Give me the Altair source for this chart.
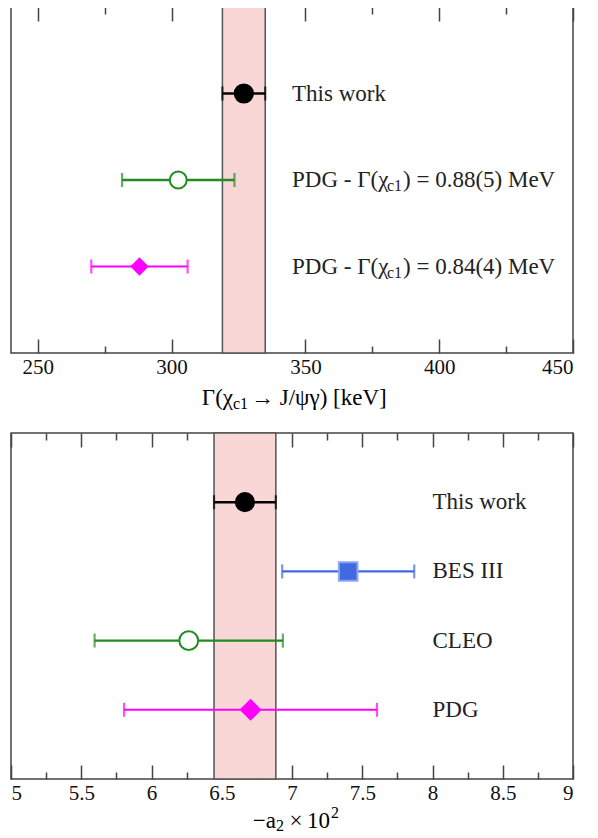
import altair as alt
import pandas as pd

# ---------------- data: top panel ----------------
top_names = ["This work", "PDG 0.88(5)", "PDG 0.84(4)"]
top_center = [327.0, 302.5, 288.0]
top_err = [8.0, 21.0, 18.0]
top_pos = [1, 2, 3]
top_label_main = ["This work", "PDG - Γ(χ", "PDG - Γ(χ"]
top_label_sub = ["", "c1", "c1"]
top_label_rest = ["", ") = 0.88(5) MeV", ") = 0.84(4) MeV"]
top_label_x = 345.0
top_band = [319.0, 335.0]
top_domain = [240, 450]
top_ticks = [250, 275, 300, 325, 350, 375, 400, 425, 450]

# ---------------- data: bottom panel ----------------
bot_names = ["This work ", "BES III", "CLEO", "PDG"]
bot_labels = ["This work", "BES III", "CLEO", "PDG"]
bot_center = [6.665, 7.40, 6.265, 6.705]
bot_err = [0.22, 0.47, 0.67, 0.90]
bot_pos = [1, 2, 3, 4]
bot_label_x = 8.0
bot_band = [6.445, 6.885]
bot_domain = [5, 9]
bot_ticks = [5, 5.25, 5.5, 5.75, 6, 6.25, 6.5, 6.75, 7, 7.25, 7.5, 7.75, 8, 8.25, 8.5, 8.75, 9]

# ---------------- styles ----------------
W, H = 562, 346
FONT = "Liberation Serif"
FRAME = "#444444"
LFS = 23

top_colors = ["#000000", "#228B22", "#FF00FF"]
top_shapes = ["circle", "circle", "diamond"]
top_fills = ["#000000", "#FFFFFF", "#FF00FF"]
top_sizes = [330, 240, 330]
top_lw = [2.6, 2.0, 2.0]

bot_colors = ["#000000", "#4169E1", "#228B22", "#FF00FF"]
bot_strokes = ["#000000", "#8DA5EE", "#228B22", "#FF00FF"]
bot_shapes = ["circle", "square", "circle", "diamond"]
bot_fills = ["#000000", "#4169E1", "#FFFFFF", "#FF00FF"]
bot_sizes = [330, 370, 240, 330]
bot_lw = [2.6, 2.0, 2.0, 2.0]


def panel(names, center, err, pos, band, domain, ticks, major_test, ydom,
          colors, strokes, shapes, fills, sizes, lws, labels, label_x, title_parts, title_y):
    df = pd.DataFrame({
        "name": names,
        "c": center,
        "lo": [c - e for c, e in zip(center, err)],
        "hi": [c + e for c, e in zip(center, err)],
        "pos": pos,
        "lx": [label_x] * len(names),
    })
    for k, v in labels.items():
        df[k] = v
    band_df = pd.DataFrame({"b0": [band[0]], "b1": [band[1]]})

    xscale = alt.Scale(domain=domain, nice=False, zero=False)
    yscale = alt.Scale(domain=ydom, reverse=True, nice=False, zero=False)
    tick_size = {"condition": {"test": major_test, "value": 14}, "value": 7}
    color_s = alt.Scale(domain=names, range=colors)
    lw_s = alt.Scale(domain=names, range=lws)

    ax_labels = alt.Axis(values=ticks, orient="bottom", ticks=False, tickSize=0, domain=False,
                         grid=False, labelFont=FONT, labelFontSize=21, labelColor="#111",
                         labelPadding=3, title=None,
                         labelExpr=f"({major_test}) ? format(datum.value, '~g') : ''")
    ax_bot_ticks = alt.Axis(values=ticks, orient="top", offset=-H, labels=False, domain=False,
                            grid=False, tickSize=tick_size, tickColor=FRAME, tickWidth=1.5,
                            title=None)
    ax_top_ticks = alt.Axis(values=ticks, orient="bottom", offset=-H, labels=False, domain=False,
                            grid=False, tickSize=tick_size, tickColor=FRAME, tickWidth=1.5,
                            title=None)

    band_layer = alt.Chart(band_df).mark_rect(
        fill="#F9D7D7", stroke="#555555", strokeWidth=1.5
    ).encode(
        x=alt.X("b0:Q", scale=xscale, axis=ax_labels),
        x2="b1:Q",
    )
    base = alt.Chart(df)
    err_layer = base.mark_rule().encode(
        x=alt.X("lo:Q", scale=xscale, axis=ax_bot_ticks),
        x2="hi:Q",
        y=alt.Y("pos:Q", scale=yscale, axis=None),
        color=alt.Color("name:N", scale=color_s, legend=None),
        strokeWidth=alt.StrokeWidth("name:N", scale=lw_s, legend=None),
    )
    cap_lo = base.mark_tick(orient="vertical", size=14, thickness=2.2).encode(
        x=alt.X("lo:Q", scale=xscale, axis=ax_top_ticks),
        y=alt.Y("pos:Q", scale=yscale, axis=None),
        color=alt.Color("name:N", scale=color_s, legend=None),
    )
    cap_hi = base.mark_tick(orient="vertical", size=14, thickness=2.2).encode(
        x=alt.X("hi:Q", scale=xscale, axis=None),
        y=alt.Y("pos:Q", scale=yscale, axis=None),
        color=alt.Color("name:N", scale=color_s, legend=None),
    )
    pts = base.mark_point(filled=False, opacity=1, strokeWidth=2).encode(
        x=alt.X("c:Q", scale=xscale, axis=None),
        y=alt.Y("pos:Q", scale=yscale, axis=None),
        shape=alt.Shape("name:N", scale=alt.Scale(domain=names, range=shapes), legend=None),
        fill=alt.Fill("name:N", scale=alt.Scale(domain=names, range=fills), legend=None),
        stroke=alt.Stroke("name:N", scale=alt.Scale(domain=names, range=strokes), legend=None),
        size=alt.Size("name:N", scale=alt.Scale(domain=names, range=sizes), legend=None),
    )
    layers = [band_layer, err_layer, cap_lo, cap_hi, pts]

    # label text parts
    spec = [("main", 0, 0, LFS), ("sub", 95, 6, 16), ("rest", 111, 0, LFS)]
    for col, dx, dy, fs in spec:
        if col in labels:
            layers.append(base.mark_text(align="left", baseline="middle", dx=dx, dy=dy,
                                         font=FONT, fontSize=fs, color="#222").encode(
                x=alt.X("lx:Q", scale=xscale, axis=None),
                y=alt.Y("pos:Q", scale=yscale, axis=None),
                text=f"{col}:N",
            ))
    # axis title parts
    for txt, xp, align, fs, dy in title_parts:
        layers.append(alt.Chart(pd.DataFrame({"t": [txt]})).mark_text(
            align=align, baseline="middle", font=FONT, fontSize=fs, dy=dy, color="#000"
        ).encode(x=alt.value(xp), y=alt.value(H + title_y), text="t:N"))

    return (alt.layer(*layers)
            .resolve_axis(x="independent")
            .properties(width=W, height=H))


top_title = [("Γ(χ", 222, "right", LFS, 0),
             ("c1", 222, "left", 16, 6),
             ("→ J/ψγ) [keV]", 240, "left", LFS, 0)]
bot_title = [("−a", 265, "right", LFS, 0),
             ("2", 265, "left", 16, 5),
             ("×", 285, "center", LFS, 0),
             ("10", 296, "left", LFS, 0),
             ("2", 320, "left", 16, -8)]

top = panel(top_names, top_center, top_err, top_pos, top_band, top_domain, top_ticks,
            "datum.value % 50 === 0", [0, 4], top_colors, top_colors, top_shapes, top_fills,
            top_sizes, top_lw,
            {"main": top_label_main, "sub": top_label_sub, "rest": top_label_rest},
            top_label_x, top_title, 45)
bot = panel(bot_names, bot_center, bot_err, bot_pos, bot_band, bot_domain, bot_ticks,
            "datum.value % 0.5 === 0", [0, 5], bot_colors, bot_strokes, bot_shapes, bot_fills,
            bot_sizes, bot_lw,
            {"main": bot_labels}, bot_label_x, bot_title, 42)

chart = (alt.vconcat(top, bot, spacing=18)
         .resolve_scale(color="independent", fill="independent", stroke="independent",
                        shape="independent", size="independent", strokeWidth="independent")
         .properties(padding={"left": 1, "top": -3, "right": 0, "bottom": 0})
         .configure(background="white")
         .configure_view(stroke=FRAME, strokeWidth=1.5))

chart.save("out.html", embed_options={"renderer": "svg", "actions": False})
